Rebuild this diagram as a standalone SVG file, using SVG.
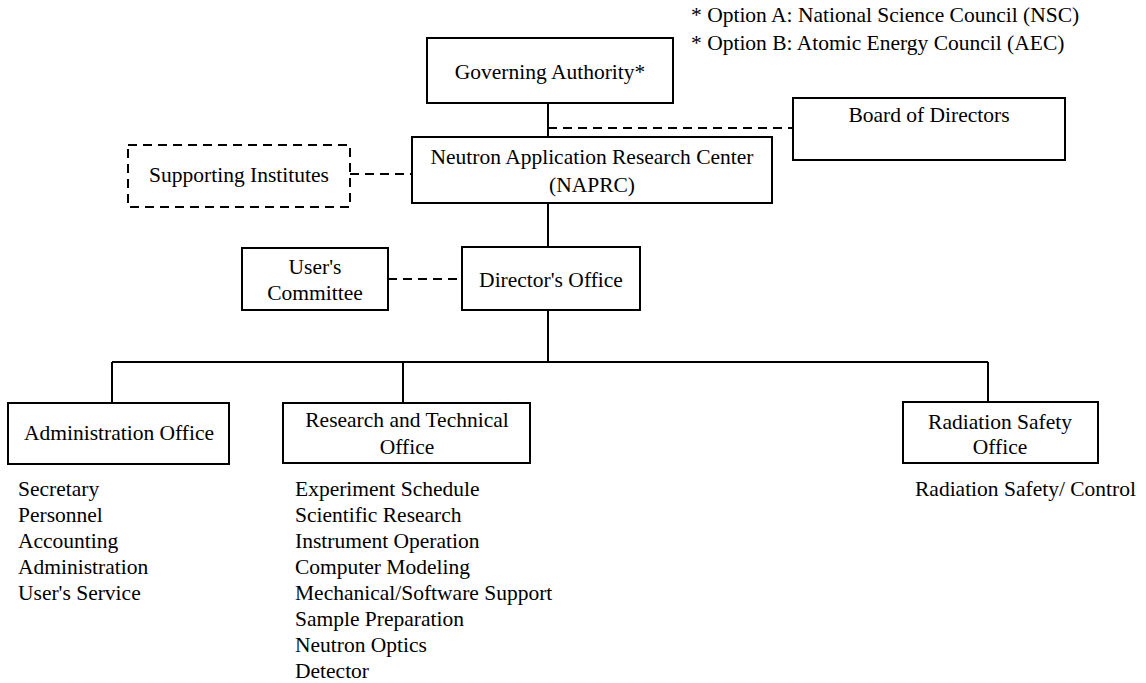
<svg xmlns="http://www.w3.org/2000/svg" width="1146" height="683" viewBox="0 0 1146 683">
<style>
text{font-family:"Liberation Serif","Times New Roman",serif;font-size:21.5px;fill:#000}
.c{text-anchor:middle}
.box{fill:#fff;stroke:#000;stroke-width:2}
.dbox{fill:#fff;stroke:#000;stroke-width:2;stroke-dasharray:9,6}
.ln{fill:none;stroke:#000;stroke-width:2}
.dl{fill:none;stroke:#000;stroke-width:2;stroke-dasharray:9,6}
</style>
<rect width="1146" height="683" fill="#fff"/>
<g id="notes">
<text x="691" y="22">* Option A: National Science Council (NSC)</text>
<text x="691" y="50">* Option B: Atomic Energy Council (AEC)</text>
</g>
<g id="connectors">
<path class="ln" d="M548 103V137"/>
<path class="dl" d="M548 128H793"/>
<path class="dl" d="M350 174H412"/>
<path class="ln" d="M548 203V247"/>
<path class="dl" d="M388 279H462"/>
<path class="ln" d="M548 310V362"/>
<path class="ln" d="M112 362H988"/>
<path class="ln" d="M112 362V403M403 362V403M988 362V402"/>
</g>
<g id="governing">
<rect class="box" x="427" y="38" width="246" height="65"/>
<text class="c" x="550" y="79">Governing Authority*</text>
</g>
<g id="board">
<rect class="box" x="793" y="98" width="272" height="62"/>
<text class="c" x="929" y="122">Board of Directors</text>
</g>
<g id="naprc">
<rect class="box" x="412" y="137" width="360" height="66"/>
<text class="c" x="592" y="164">Neutron Application Research Center</text>
<text class="c" x="592" y="192">(NAPRC)</text>
</g>
<g id="supporting">
<rect class="dbox" x="128" y="145" width="222" height="62"/>
<text class="c" x="239" y="182">Supporting Institutes</text>
</g>
<g id="director">
<rect class="box" x="462" y="247" width="178" height="63"/>
<text class="c" x="551" y="287">Director's Office</text>
</g>
<g id="users">
<rect class="box" x="242" y="248" width="146" height="62"/>
<text class="c" x="315" y="274">User's</text>
<text class="c" x="315" y="300">Committee</text>
</g>
<g id="admin">
<rect class="box" x="8" y="403" width="221" height="61"/>
<text class="c" x="119" y="440">Administration Office</text>
<text x="18" y="496">Secretary</text>
<text x="18" y="522">Personnel</text>
<text x="18" y="548">Accounting</text>
<text x="18" y="574">Administration</text>
<text x="18" y="600">User's Service</text>
</g>
<g id="research">
<rect class="box" x="283" y="403" width="247" height="60"/>
<text class="c" x="407" y="427">Research and Technical</text>
<text class="c" x="407" y="454">Office</text>
<text x="295" y="496">Experiment Schedule</text>
<text x="295" y="522">Scientific Research</text>
<text x="295" y="548">Instrument Operation</text>
<text x="295" y="574">Computer Modeling</text>
<text x="295" y="600">Mechanical/Software Support</text>
<text x="295" y="626">Sample Preparation</text>
<text x="295" y="652">Neutron Optics</text>
<text x="295" y="678">Detector</text>
</g>
<g id="radiation">
<rect class="box" x="903" y="402" width="195" height="61"/>
<text class="c" x="1000" y="429">Radiation Safety</text>
<text class="c" x="1000" y="454">Office</text>
<text x="915" y="496">Radiation Safety/ Control</text>
</g>
</svg>
